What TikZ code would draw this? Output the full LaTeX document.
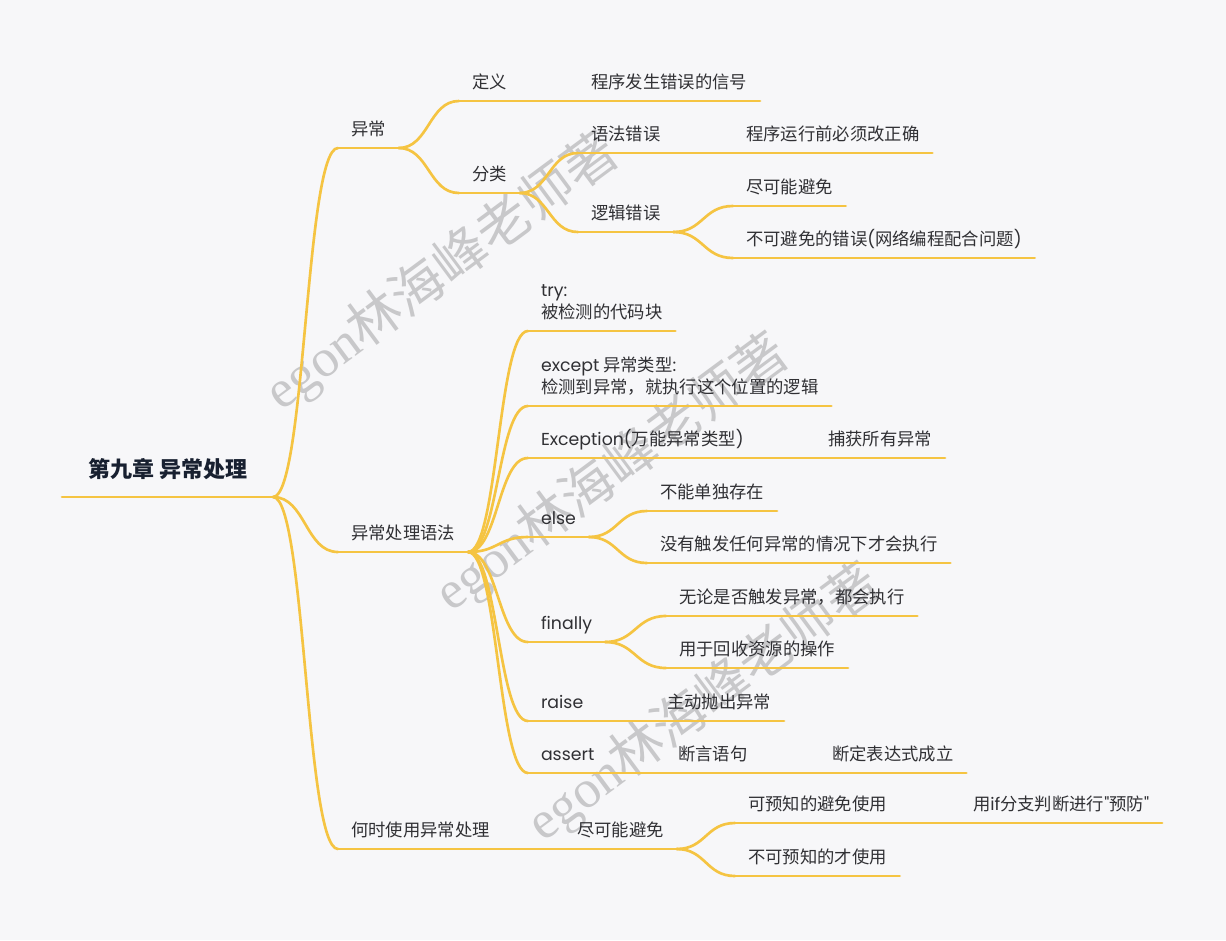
\documentclass[tikz,border=0pt]{standalone}
\usepackage{fontspec}
\setmainfont{Noto Sans CJK SC}
\newfontfamily\lat{Poppins}
\newfontfamily\wmlat{Liberation Serif}
\usepackage{tikz}
\usetikzlibrary{calc}
\definecolor{paper}{RGB}{247,247,249}
\definecolor{gold}{RGB}{245,196,66}
\definecolor{ink}{RGB}{48,48,52}
\definecolor{navy}{RGB}{24,32,48}
\definecolor{wmgray}{RGB}{200,200,202}

\begin{document}
\begin{tikzpicture}[
  x=0.75pt, y=-0.75pt,
  topic/.style={anchor=south west, align=left, inner xsep=9.75pt, inner ysep=4.2pt, outer sep=0pt,
    text=ink, font=\fontsize{13}{16.5}\selectfont, execute at end node=\strut},
  root/.style={topic, inner xsep=19.5pt, inner ysep=8.5pt, text=navy, font=\fontsize{16.5}{20}\selectfont\bfseries},
  line/.style={draw=gold, line width=2pt, line cap=round},
  link/.style={line, to path={.. controls ($(\tikztostart)!0.5!(\tikztotarget |- \tikztostart)$)
      and ($(\tikztotarget)!0.5!(\tikztostart |- \tikztotarget)$) .. (\tikztotarget)}},
  wm/.style={text=wmgray, font=\fontsize{40}{44}\selectfont, rotate=36.5}
]
\fill[paper] (0,0) rectangle (1226,940);

% watermark, under the branches
\node[wm] (wm1) at (442,272) {{\wmlat egon}林海峰老师著};
\node[wm] (wm2) at (612,473) {{\wmlat egon}林海峰老师著};
\node[wm] (wm3) at (704,703) {{\wmlat egon}林海峰老师著};

\node[root] (root) at (62,497) {第九章 异常处理};

\node[topic] (yc) at (338,148) {异常};
\node[topic] (yf) at (338,552) {异常处理语法};
\node[topic] (sy) at (338,849) {何时使用异常处理};

% 异常
\node[topic] (dy) at (459,101) {定义};
\node[topic] (xh) at (578,101) {程序发生错误的信号};
\node[topic] (fl) at (459,193) {分类};
\node[topic] (yfcw) at (578,153) {语法错误};
\node[topic] (gz) at (733,153) {程序运行前必须改正确};
\node[topic] (ljcw) at (578,232) {逻辑错误};
\node[topic] (kbm) at (733,206) {尽可能避免};
\node[topic] (bkbm) at (733,258) {不可避免的错误{\lat(}网络编程配合问题{\lat)}};

% 异常处理语法
\node[topic] (try) at (528,331) {{\lat try:}\\被检测的代码块};
\node[topic] (except) at (528,406) {{\lat except} 异常类型{\lat:}\\检测到异常，就执行这个位置的逻辑};
\node[topic] (exc) at (528,458) {{\lat Exception(}万能异常类型{\lat)}};
\node[topic] (bh) at (815,458) {捕获所有异常};
\node[topic] (else) at (528,537) {{\lat else}};
\node[topic] (bndd) at (647,511) {不能单独存在};
\node[topic] (myyc) at (647,563) {没有触发任何异常的情况下才会执行};
\node[topic] (fin) at (528,642) {{\lat finally}};
\node[topic] (wlsf) at (666,616) {无论是否触发异常，都会执行};
\node[topic] (hszy) at (666,668) {用于回收资源的操作};
\node[topic] (raise) at (528,721) {{\lat raise}};
\node[topic] (zdpc) at (654,721) {主动抛出异常};
\node[topic] (assert) at (528,773) {{\lat assert}};
\node[topic] (dyyj) at (665,773) {断言语句};
\node[topic] (ddbd) at (819,773) {断定表达式成立};

% 何时使用异常处理
\node[topic] (jkn) at (564,849) {尽可能避免};
\node[topic] (kyz) at (735,823) {可预知的避免使用};
\node[topic] (yif) at (960,823) {用{\lat if}分支判断进行{\lat"}预防{\lat"}};
\node[topic] (bkyz) at (735,876) {不可预知的才使用};

\foreach \n in {root,yc,yf,sy,dy,xh,fl,yfcw,gz,ljcw,kbm,bkbm,try,except,exc,bh,else,bndd,myyc,
    fin,wlsf,hszy,raise,zdpc,assert,dyyj,ddbd,jkn,kyz,yif,bkyz}
  \draw[line] (\n.south west) -- (\n.south east);

\foreach \a/\b in {root/yc,root/yf,root/sy,yc/dy,dy/xh,yc/fl,fl/yfcw,yfcw/gz,fl/ljcw,ljcw/kbm,ljcw/bkbm,
    yf/try,yf/except,yf/exc,exc/bh,yf/else,else/bndd,else/myyc,yf/fin,fin/wlsf,fin/hszy,
    yf/raise,raise/zdpc,yf/assert,assert/dyyj,dyyj/ddbd,sy/jkn,jkn/kyz,kyz/yif,jkn/bkyz}
  \draw[link] (\a.south east) to (\b.south west);
\end{tikzpicture}
\end{document}
